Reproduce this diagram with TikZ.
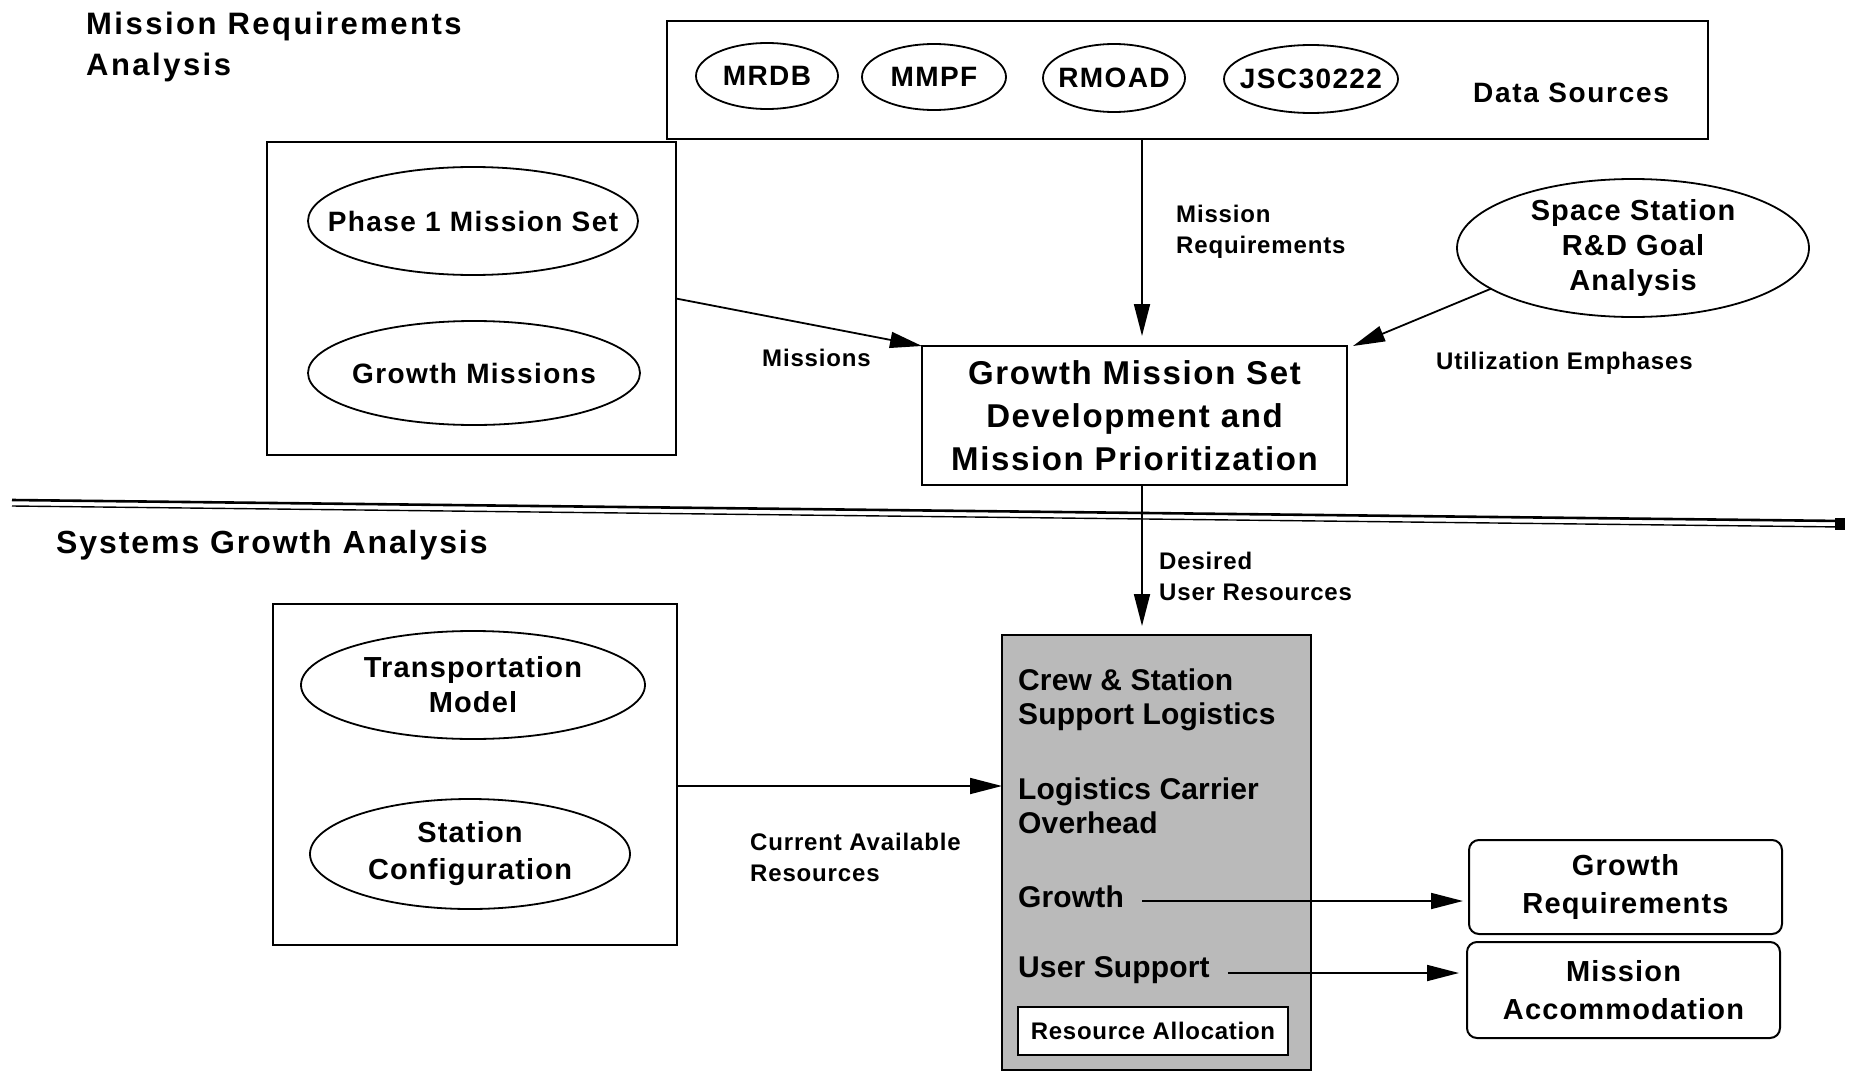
\documentclass[tikz,border=0pt]{standalone}
\usepackage{fontspec}
\setmainfont{Liberation Sans}
\usetikzlibrary{arrows.meta,shapes.geometric}
\newcommand{\fsz}[3]{\fontsize{#1}{#2}\selectfont\bfseries\addfontfeature{LetterSpace=#3}}
\begin{document}
\begin{tikzpicture}[x=1pt,y=-1pt,
  box/.style={draw, line width=2pt, inner sep=0pt, outer sep=0pt},
  rbox/.style={box, rounded corners=10pt, align=center, font=\fsz{29}{38}{4}},
  ell/.style={draw, ellipse, line width=1.8pt, inner sep=0pt, outer sep=0pt},
  etxt/.style={align=center, inner sep=0pt, font=\fsz{28}{35}{5}},
  conn/.style={line width=1.8pt, -{Triangle[length=32pt,width=16pt]}},
  lbl/.style={align=left, anchor=west, inner sep=0pt, font=\fsz{24}{31}{3.5}},
  ttl/.style={align=left, anchor=west, inner sep=0pt},
  intext/.style={align=left, anchor=west, inner sep=0pt, font=\fsz{30}{34}{0.5}}]
\fill[white] (0,0) rectangle (1853,1073);
\useasboundingbox (0,0) rectangle (1853,1073);

% titles
\node[ttl, font=\fsz{31}{41}{8}] (t1) at (86,46.5) {Mission Requirements\\Analysis};
\node[ttl, font=\fsz{32}{40}{6}] (t2) at (56,545) {Systems Growth Analysis};

% data sources
\node[box, minimum width=1041pt, minimum height=118pt] (ds) at (1187.5,80) {};
\node[ell, minimum width=142pt, minimum height=66pt] (mrdb) at (767,76) {};
\node[etxt] (mrdbt) at (mrdb) {MRDB};
\node[ell, minimum width=144pt, minimum height=66pt] (mmpf) at (934,77) {};
\node[etxt] (mmpft) at (mmpf) {MMPF};
\node[ell, minimum width=142pt, minimum height=68pt] (rmoad) at (1114,78) {};
\node[etxt] (rmoadt) at (rmoad) {RMOAD};
\node[ell, minimum width=174pt, minimum height=68pt] (jsc) at (1311,79) {};
\node[etxt] (jsct) at (jsc) {JSC30222};
\node[etxt, font=\fsz{28}{34}{6}] (dst) at (1571,93) {Data Sources};

% phase box
\node[box, minimum width=409pt, minimum height=313pt] (pbox) at (471.5,298.5) {};
\node[ell, minimum width=330pt, minimum height=108pt] (p1) at (473,221) {};
\node[etxt] (p1t) at (p1) {Phase 1 Mission Set};
\node[ell, minimum width=332pt, minimum height=104pt] (gm) at (474,373) {};
\node[etxt] (gmt) at (gm) {Growth Missions};

% central box
\node[box, minimum width=425pt, minimum height=139pt, align=center, font=\fsz{33}{43}{5}] (cb) at (1134.5,415.5) {Growth Mission Set\\Development and\\Mission Prioritization};

% space station
\node[ell, minimum width=352pt, minimum height=138pt] (ss) at (1633,248) {};
\node[etxt, font=\fsz{29}{35}{4}] (sst) at (ss) {Space Station\\R\&D Goal\\Analysis};

% upper connectors
\draw[conn, shorten >=10pt] ([xshift=7.5pt]cb.north |- ds.south) -- ([xshift=7.5pt]cb.north);
\node[lbl] (lmr) at (1176,232) {Mission\\Requirements};
\draw[conn] (pbox.east) -- (cb.north west);
\node[lbl] (lmi) at (762,358) {Missions};
\draw[conn] (ss.196) -- ([xshift=6pt]cb.north east);
\node[lbl] (lue) at (1436,363) {Utilization Emphases};

% separator
\draw[line width=2.6pt] (12,500) -- (1843,521);
\draw[line width=1.4pt] (12,506) -- (1843,527);
\fill (1835,518) rectangle (1845,530);

% lower
\node[lbl] (ldr) at (1159,576.5) {Desired\\User Resources};

\node[box, minimum width=404pt, minimum height=341pt] (lbox) at (475,774.5) {};
\node[ell, minimum width=344pt, minimum height=108pt] (tm) at (473,685) {};
\node[etxt, font=\fsz{29}{35}{4}] (tmt) at (tm) {Transportation\\Model};
\node[ell, minimum width=320pt, minimum height=110pt] (sc) at (470,854) {};
\node[etxt, font=\fsz{29}{37}{4}] (sct) at (sc) {Station\\Configuration};

\node[box, fill=black!27, minimum width=309pt, minimum height=435pt] (sbox) at (1156.5,852.5) {};
\draw[conn, shorten >=9pt] (cb.south) ++(7.5pt,0) coordinate (cbs) -- (cbs |- sbox.north);

\node[intext] (tcs) at (1018,700) {Crew \& Station\\Support Logistics};
\node[intext] (tlc) at (1018,806) {Logistics Carrier\\Overhead};
\node[intext] (tg) at (1018,897) {Growth};
\node[intext] (tu) at (1018,970) {User Support};
\node[box, fill=white, minimum width=270pt, minimum height=48pt, font=\fsz{24}{28}{3}] (ra) at (1153,1031) {Resource Allocation};

\draw[conn] ([yshift=-11.5pt]lbox.east) -- ([yshift=-11.5pt]lbox.east -| sbox.west);
\node[lbl] (lca) at (750,857) {Current Available\\Resources};

\node[rbox, minimum width=313pt, minimum height=94pt] (gr) at (1625.5,887) {Growth\\Requirements};
\node[rbox, minimum width=313pt, minimum height=96pt] (ma) at (1623.5,990) {Mission\\Accommodation};

\draw[conn, shorten <=18pt, shorten >=6pt] ([yshift=-4pt]tg.east) -- ([yshift=-4pt]tg.east -| gr.west);
\draw[conn, shorten <=18pt, shorten >=8pt] ([yshift=-3pt]tu.east) -- ([yshift=-3pt]tu.east -| ma.west);
\end{tikzpicture}
\end{document}
